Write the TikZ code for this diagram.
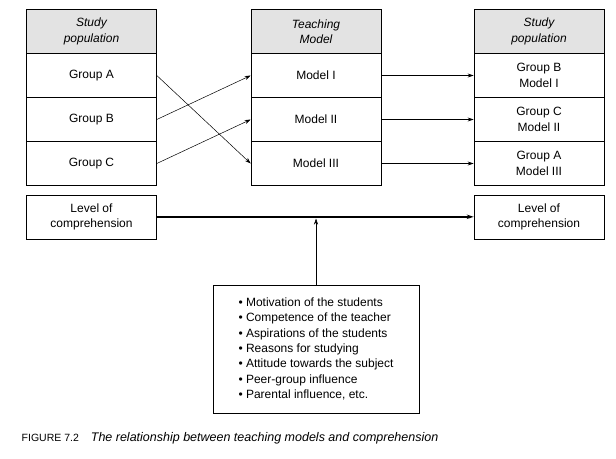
\documentclass[tikz,border=0pt]{standalone}
\usepackage{fontspec}
\setmainfont{Liberation Sans}
\usetikzlibrary{arrows.meta}

\begin{document}
\begin{tikzpicture}[x=1pt, y=-1pt,
    cell/.style={draw, line width=0.6pt, minimum width=\cellw, minimum height=\cellh,
                 align=center, inner sep=1pt, font=\fontsize{12}{15.3}\selectfont},
    head/.style={cell, fill=gray!22, font=\fontsize{12}{15.3}\selectfont\itshape},
    arr/.style={-{Stealth[length=6pt, width=4pt]}, line width=0.5pt}]
    %--------------------%
    % Parameters
    %--------------------%
    \def\cellw{130pt}
    \def\cellh{44pt}
    \def\colA{91.5}
    \def\colB{316}
    \def\colC{539}

    \useasboundingbox (0,0) rectangle (616,458);

    %--------------------%
    % Left column
    %--------------------%
    \node[head] (popL) at (\colA,31.5) {Study\\population};
    \node[cell] (grpA) at (\colA,75.5) {Group A};
    \node[cell] (grpB) at (\colA,119.5) {Group B};
    \node[cell] (grpC) at (\colA,163.5) {Group C};
    \node[cell] (lvlL) at (\colA,216.8) {Level of\\comprehension};

    %--------------------%
    % Middle column
    %--------------------%
    \node[head] (teach) at (\colB,31.5) {Teaching\\Model};
    \node[cell] (mod1) at (\colB,75.5) {Model I};
    \node[cell] (mod2) at (\colB,119.5) {Model II};
    \node[cell] (mod3) at (\colB,163.5) {Model III};

    %--------------------%
    % Right column
    %--------------------%
    \node[head] (popR) at (\colC,31.5) {Study\\population};
    \node[cell] (res1) at (\colC,75.5) {Group B\\Model I};
    \node[cell] (res2) at (\colC,119.5) {Group C\\Model II};
    \node[cell] (res3) at (\colC,163.5) {Group A\\Model III};
    \node[cell] (lvlR) at (\colC,216.8) {Level of\\comprehension};

    %--------------------%
    % Factors
    %--------------------%
    \node[draw, line width=0.6pt, minimum width=206pt, minimum height=128pt, align=left,
          font=\fontsize{12}{15.3}\selectfont] (facts) at (316,349) {%
        \textbullet\ Motivation of the students\\
        \textbullet\ Competence of the teacher\\
        \textbullet\ Aspirations of the students\\
        \textbullet\ Reasons for studying\\
        \textbullet\ Attitude towards the subject\\
        \textbullet\ Peer-group influence\\
        \textbullet\ Parental influence, etc.};

    %--------------------%
    % Connections
    %--------------------%
    % Groups to models
    \draw[arr] (grpA.east) -- (mod3.west);
    \draw[arr] (grpB.east) -- (mod1.west);
    \draw[arr] (grpC.east) -- (mod2.west);

    % Models to results
    \draw[arr] (mod1.east) -- (res1.west);
    \draw[arr] (mod2.east) -- (res2.west);
    \draw[arr] (mod3.east) -- (res3.west);

    % Comprehension
    \draw[-{Stealth[length=7pt, width=4.5pt]}, line width=1.4pt] (lvlL.east) -- (lvlR.west);
    \coordinate (join) at (316,218.5);
    \draw[arr] (facts.north) -- (join);

    %--------------------%
    % Caption
    %--------------------%
    \node[anchor=west, inner sep=0pt, font=\fontsize{12.5}{14}\selectfont] (caption) at (21.5,438)
        {{\fontsize{10.5}{12}\selectfont FIGURE 7.2}\hspace{12pt}\textit{The relationship between teaching models and comprehension}};

\end{tikzpicture}
\end{document}
